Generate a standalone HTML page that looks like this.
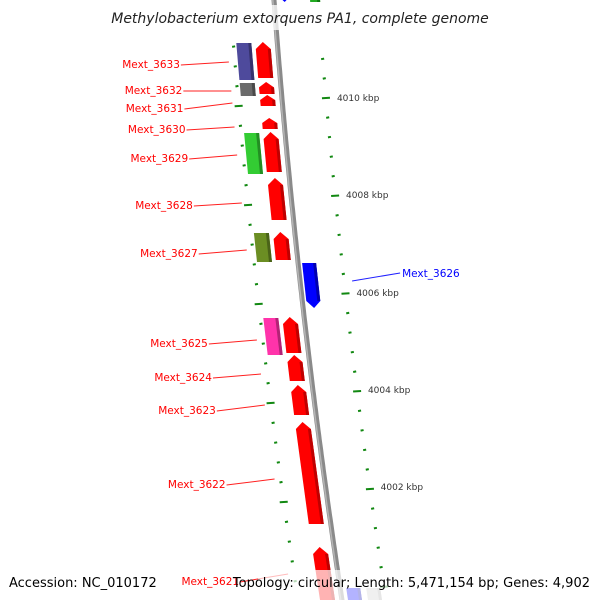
<!DOCTYPE html>
<html><head><meta charset="utf-8">
<style>
html,body{margin:0;padding:0;background:#fff;}
svg{display:block;font-family:"DejaVu Sans","Liberation Sans",sans-serif;}
</style></head>
<body>
<svg id="map" width="600" height="600" viewBox="0 0 600 600" xmlns="http://www.w3.org/2000/svg">
<defs>
<linearGradient id="bbg" x1="0" x2="1" y1="0" y2="0">
<stop offset="0" stop-color="#aaa"/><stop offset="0.5" stop-color="#777"/><stop offset="1" stop-color="#999"/>
</linearGradient>
</defs>
<g id="layer"></g>
<rect x="105" y="5" width="390" height="25" fill="#fff" opacity="0.75"/>
<text x="300" y="23" text-anchor="middle" font-size="14" font-style="italic" fill="#222">Methylobacterium extorquens PA1, complete genome</text>
<rect x="258" y="570" width="342" height="30" fill="#fff" opacity="0.7"/>
<text x="9" y="587" font-size="13" fill="#000">Accession: NC_010172</text>
<text x="590" y="587" text-anchor="end" font-size="13" fill="#000">Topology: circular; Length: 5,471,154 bp; Genes: 4,902</text>
</svg>
<script>
const geneNames=["Mext_3633","Mext_3632","Mext_3631","Mext_3630","Mext_3629","Mext_3628","Mext_3627","Mext_3626","Mext_3625","Mext_3624","Mext_3623","Mext_3622","Mext_3621"];
const geneTop=[42,82,95,118,132,178,232,263,317,355,385,422,547];
const geneBottom=[78,94,106,129,172,220,260,308,353,381,415,524,610];
const geneStrand=[1,1,1,1,1,1,1,-1,1,1,1,1,1];
const cogColor=["#4e4a9c","#6b6b6b",null,null,"#33cc33",null,"#6b8e23",null,"#ff33aa",null,null,null,null];
const labelY=[64,90,108,129,158,205,253,274,343,377,410,484,581];
const labelLineY=[62,91,103,127,155,203,250,281,340,374,405,479,574];
const tickLabels=["4010 kbp","4008 kbp","4006 kbp","4004 kbp","4002 kbp"];
const tickLabelY=[98,195,293,390,487];

const NS="http://www.w3.org/2000/svg";
const layer=document.getElementById('layer');
function bb(y){return 274+0.0749*y+0.000064*y*y;}
function mk(tag,attrs){const e=document.createElementNS(NS,tag);for(const k in attrs)e.setAttribute(k,attrs[k]);layer.appendChild(e);return e;}
function pts(a){return a.map(p=>p[0].toFixed(1)+","+p[1].toFixed(1)).join(" ");}

// backbone
let d="";for(let y=-5;y<=605;y+=5){d+=(y===-5?"M":"L")+bb(y).toFixed(1)+","+y;}
let bpath=mk('path',{d:d,stroke:'#8a8a8a','stroke-width':5,fill:'none'});


let bpath2=mk('path',{d:d,stroke:'#b5b5b5','stroke-width':1.5,fill:'none',transform:'translate(-1.2,0)'});



// ticks
const step=19.55;
for(let i=-2;i<32;i++){
  const y=98+i*step; if(y<30||y>598)continue;
  const major=((i%5)+5)%5===0;
  const x=bb(y)+44;
  let t=mk('line',{x1:x-(major?4:1.5),y1:y+0.3,x2:x+(major?4:1.5),y2:y-0.3,stroke:'#118811','stroke-width':major?2:2});
  
  
}
for(let i=-4;i<32;i++){
  const y=106+i*19.8; if(y<30||y>598)continue;
  const major=((i%5)+5)%5===0;
  const x=bb(y)-44;
  let t=mk('line',{x1:x-(major?4:1.5),y1:y+0.3,x2:x+(major?4:1.5),y2:y-0.3,stroke:'#118811','stroke-width':2});
  
  
}
tickLabels.forEach((s,i)=>{
  const y=tickLabelY[i];
  let t=mk('text',{x:bb(y)+55,y:y+3,'font-size':9,fill:'#333'});
  t.textContent=s;
  
  
});

function block(y1,y2,o1,o2,fill,dark,arrow,name){
  const g=document.createElementNS(NS,'g');layer.appendChild(g);
  
  
  const tip=Math.min(7,(y2-y1)*0.45);
  let p;
  if(arrow===1){
    p=[[bb(y2)+o1,y2],[bb(y1+tip)+o1,y1+tip],[bb(y1)+(o1+o2)/2,y1],[bb(y1+tip)+o2,y1+tip],[bb(y2)+o2,y2]];
  }else if(arrow===-1){
    p=[[bb(y1)+o1,y1],[bb(y1)+o2,y1],[bb(y2-tip)+o2,y2-tip],[bb(y2)+(o1+o2)/2,y2],[bb(y2-tip)+o1,y2-tip]];
  }else{
    p=[[bb(y1)+o1,y1],[bb(y1)+o2,y1],[bb(y2)+o2,y2],[bb(y2)+o1,y2]];
  }
  const e=document.createElementNS(NS,'polygon');e.setAttribute('points',pts(p));e.setAttribute('fill',fill);g.appendChild(e);
  const s=[[bb(y1+(arrow===1?tip:0))+o2-3,y1+(arrow===1?tip:0)],[bb(y1+(arrow===1?tip:0))+o2,y1+(arrow===1?tip:0)],[bb(y2-(arrow===-1?tip:0))+o2,y2-(arrow===-1?tip:0)],[bb(y2-(arrow===-1?tip:0))+o2-3,y2-(arrow===-1?tip:0)]];
  const e2=document.createElementNS(NS,'polygon');e2.setAttribute('points',pts(s));e2.setAttribute('fill',dark);g.appendChild(e2);
}
function darker(c){const n=parseInt(c.slice(1),16);const r=(n>>16)*0.7|0,gg=((n>>8)&255)*0.7|0,b=(n&255)*0.7|0;return "rgb("+r+","+gg+","+b+")";}

geneNames.forEach((nm,i)=>{
  const y1=geneTop[i],y2=geneBottom[i];
  if(geneStrand[i]===1){
    block(y1,y2,-22,-7,'#ff0000','#c00000',1,'gene-'+nm.toLowerCase().replace('_','-'));
    if(cogColor[i]) block(y1+1,y2+2,-41,-26,cogColor[i],darker(cogColor[i]),0,'cog-'+nm.toLowerCase().replace('_','-'));
    const x2=bb(labelLineY[i])-50;
    let ln=mk('line',{x1:x2-48,y1:labelY[i]+1,x2:x2,y2:labelLineY[i],stroke:'#ff2020','stroke-width':1});
    
    
    let t=mk('text',{x:x2-49,y:labelY[i]+4,'text-anchor':'end','font-size':10.5,fill:'#ff0000'});
    t.textContent=nm;
    
    
  }else{
    block(y1,y2,4,18,'#0000ff','#0000b0',-1,'gene-'+nm.toLowerCase().replace('_','-'));
    const x1=bb(labelLineY[i])+52;
    let ln=mk('line',{x1:x1,y1:labelLineY[i],x2:x1+48,y2:labelY[i]-1,stroke:'#2020ff','stroke-width':1});
    
    
    let t=mk('text',{x:x1+50,y:labelY[i]+3,'font-size':10.5,fill:'#0000ff'});
    t.textContent=nm;
    
    
  }
});
// partial features at edges
block(588,610,6,20,'#0000ff','#0000b0',0,'gene-partial-bottom');
block(588,610,26,40,'#cccccc','#aaaaaa',0,'cog-partial-bottom');
block(-10,2,5,16,'#0000ff','#0000b0',-1,'gene-partial-top');
block(-10,2,36,46,'#22aa22','#117711',0,'cog-partial-top');
</script>
</body></html>
